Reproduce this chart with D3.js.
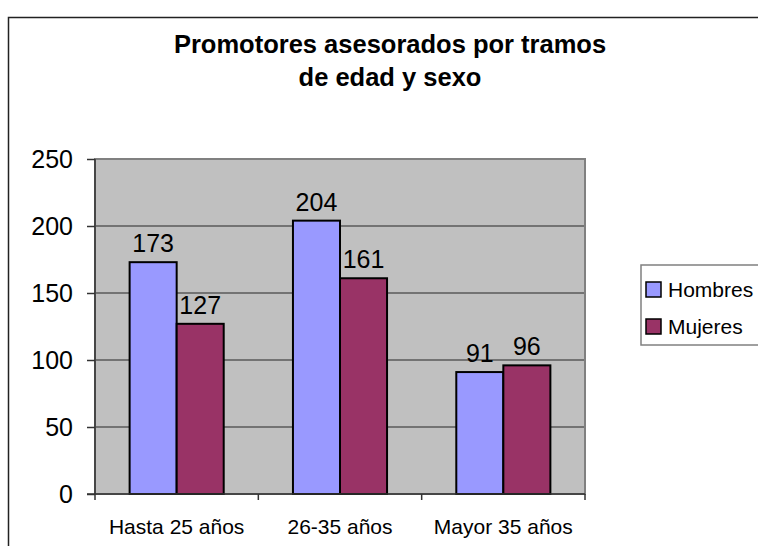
<!DOCTYPE html>
<html>
<head>
<meta charset="utf-8">
<script src="https://cdn.jsdelivr.net/npm/d3@7"></script>
<style>
  html, body { margin: 0; padding: 0; background: #fff; }
  svg { display: block; font-family: "Liberation Sans", Arial, sans-serif; }
</style>
</head>
<body>
<div id="chart"></div>
<script>
// datos del gráfico
var categorias = ["Hasta 25 años", "26-35 años", "Mayor 35 años"];
var series = ["Hombres", "Mujeres"];
var hombres = [173, 204, 91];
var mujeres = [127, 161, 96];
var ticksY = [0, 50, 100, 150, 200, 250];
var titulo = ["Promotores asesorados por tramos", "de edad y sexo"];
var colores = ["#9999FF", "#993366"];

var W = 758, H = 546;
var plot = { left: 95, top: 159, right: 585, bottom: 494 };

var svg = d3.select("#chart").append("svg")
    .attr("width", W)
    .attr("height", H);

// marco exterior
svg.append("rect")
    .attr("x", 8.5).attr("y", 17.5)
    .attr("width", W + 20).attr("height", H + 20)
    .attr("fill", "#fff")
    .attr("stroke", "#222")
    .attr("stroke-width", 1.5);

// título
svg.append("text")
    .attr("text-anchor", "middle")
    .attr("font-weight", "bold")
    .attr("font-size", 25.5)
    .selectAll("tspan")
    .data(titulo)
    .enter().append("tspan")
    .attr("x", 390)
    .attr("y", (d, i) => 53 + i * 33)
    .text(d => d);

var x0 = d3.scaleBand().domain(categorias).range([plot.left, plot.right]);
var x1 = d3.scaleBand().domain(series)
    .range([0, x0.bandwidth()])
    .paddingOuter(0.736);
var y = d3.scaleLinear().domain([0, 250]).range([plot.bottom, plot.top]);

// fondo del área de trazado
svg.append("rect")
    .attr("x", plot.left).attr("y", plot.top)
    .attr("width", plot.right - plot.left)
    .attr("height", plot.bottom - plot.top)
    .attr("fill", "#C0C0C0");

// líneas de división
svg.append("g")
    .selectAll("line")
    .data(ticksY.slice(1))
    .enter().append("line")
    .attr("x1", plot.left).attr("x2", plot.right)
    .attr("y1", d => y(d)).attr("y2", d => y(d))
    .attr("stroke", "#5a5a5a")
    .attr("stroke-width", 1.5);

svg.append("rect")
    .attr("x", plot.left).attr("y", plot.top)
    .attr("width", plot.right - plot.left)
    .attr("height", plot.bottom - plot.top)
    .attr("fill", "none")
    .attr("stroke", "#808080")
    .attr("stroke-width", 2);

// barras
var datos = categorias.map((c, i) => ({ cat: c, vals: [hombres[i], mujeres[i]] }));
var grupos = svg.append("g")
    .selectAll("g")
    .data(datos)
    .enter().append("g")
    .attr("transform", d => "translate(" + x0(d.cat) + ",0)");

grupos.selectAll("rect")
    .data(d => d.vals.map((v, j) => ({ s: series[j], v: v, j: j })))
    .enter().append("rect")
    .attr("x", d => x1(d.s))
    .attr("y", d => y(d.v))
    .attr("width", x1.bandwidth())
    .attr("height", d => y(0) - y(d.v))
    .attr("fill", d => colores[d.j])
    .attr("stroke", "#000")
    .attr("stroke-width", 2);

// etiquetas de datos
grupos.selectAll("text")
    .data(d => d.vals.map((v, j) => ({ s: series[j], v: v })))
    .enter().append("text")
    .attr("x", d => x1(d.s) + x1.bandwidth() / 2)
    .attr("y", d => y(d.v) - 10)
    .attr("text-anchor", "middle")
    .attr("font-size", 25)
    .text(d => d.v);

// eje Y
var ejeY = svg.append("g")
    .attr("transform", "translate(" + plot.left + ",0)")
    .call(d3.axisLeft(y).tickValues(ticksY).tickSize(8).tickPadding(14));
ejeY.select(".domain").attr("stroke", "#333").attr("stroke-width", 1.5)
    .attr("d", "M0," + plot.top + "V" + plot.bottom);
ejeY.selectAll(".tick line").attr("stroke", "#333").attr("stroke-width", 1.5);
ejeY.selectAll(".tick text")
    .attr("font-size", 25)
    .attr("fill", "#000")
    .attr("font-family", "Liberation Sans, Arial, sans-serif");

// eje X
var ejeX = svg.append("g")
    .attr("transform", "translate(0," + plot.bottom + ")");
ejeX.append("line")
    .attr("x1", plot.left - 8).attr("x2", plot.right)
    .attr("stroke", "#333").attr("stroke-width", 1.5);
ejeX.selectAll(".tk")
    .data(categorias.concat([null]))
    .enter().append("line")
    .attr("class", "tk")
    .attr("x1", (d, i) => plot.left + i * x0.bandwidth())
    .attr("x2", (d, i) => plot.left + i * x0.bandwidth())
    .attr("y1", 0).attr("y2", 6)
    .attr("stroke", "#333").attr("stroke-width", 1.5);
ejeX.selectAll("text")
    .data(categorias)
    .enter().append("text")
    .attr("x", d => x0(d) + x0.bandwidth() / 2)
    .attr("y", 40)
    .attr("text-anchor", "middle")
    .attr("font-size", 21)
    .text(d => d);

// leyenda
var leyenda = svg.append("g");
leyenda.append("rect")
    .attr("x", 641).attr("y", 265)
    .attr("width", 140).attr("height", 80)
    .attr("fill", "#fff")
    .attr("stroke", "#808080")
    .attr("stroke-width", 1.5);
var items = leyenda.selectAll("g")
    .data(series)
    .enter().append("g")
    .attr("transform", (d, i) => "translate(646," + (297 + i * 37) + ")");
items.append("rect")
    .attr("x", 0).attr("y", -15)
    .attr("width", 15).attr("height", 15)
    .attr("fill", (d, i) => colores[i])
    .attr("stroke", "#000")
    .attr("stroke-width", 1.5);
items.append("text")
    .attr("x", 22).attr("y", 0)
    .attr("font-size", 21)
    .text(d => d);
</script>
</body>
</html>
